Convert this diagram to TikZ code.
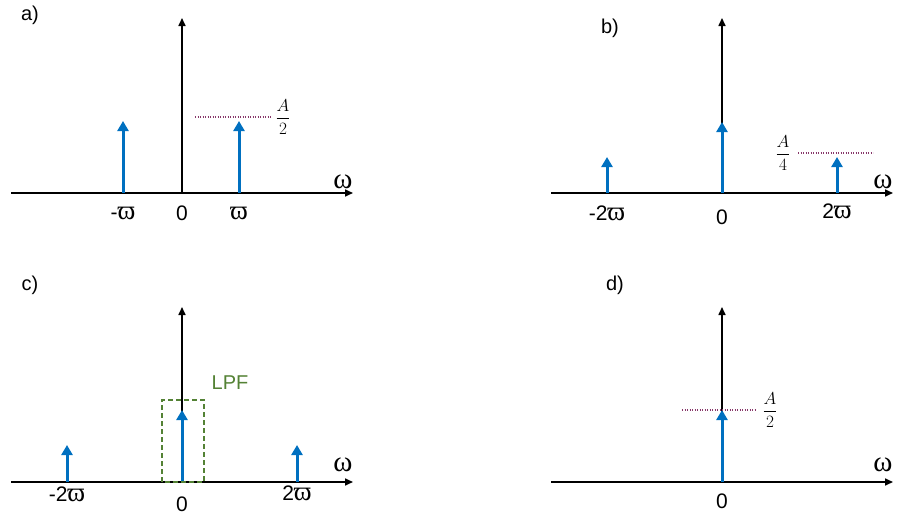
\documentclass[tikz,border=0pt]{standalone}
\usepackage{fontspec}
\setmainfont{Liberation Sans}
\newfontfamily\omfont{Liberation Serif}
\usetikzlibrary{arrows.meta}
\definecolor{spblue}{RGB}{0,112,192}
\definecolor{lpfgreen}{RGB}{84,130,53}
\definecolor{lvlline}{RGB}{135,55,105}
\newcommand{\vpi}{{\fontsize{27}{28}\omfont ϖ}}
\tikzset{
  axis/.style={black, line width=1.6pt, -{Triangle[length=8pt,width=7pt]}},
  impulse/.style={spblue, line width=3pt, -{Triangle[length=10pt,width=11pt]}},
  level/.style={lvlline, line width=1.1pt, dash pattern=on 1.2pt off 1.3pt},
  lpfbox/.style={lpfgreen, line width=1.2pt, dash pattern=on 5pt off 3pt},
  tick/.style={font=\fontsize{21}{24}\selectfont, inner sep=0pt},
  panel/.style={font=\fontsize{20}{23}\selectfont, inner sep=0pt},
  frac/.style={font=\fontsize{18}{20}\selectfont, inner sep=0pt},
  omlabel/.style={font=\fontsize{29}{32}\omfont, inner sep=0pt}
}
% axes of one panel: #1 prefix, #2 height of the omega label
\newcommand{\spaxes}[2]{%
  \coordinate (#1o) at (0,0);
  \coordinate (#1l) at (-171,0);
  \coordinate (#1r) at (171,0);
  \coordinate (#1t) at (0,175);
  \draw[axis] (#1l) -- (#1r);
  \draw[axis] (#1o) -- (#1t);
  \node[omlabel] (#1w) at (161,#2) {ω};}

\begin{document}
\begin{tikzpicture}[x=1pt,y=1pt]
\useasboundingbox (0,-522) rectangle (898,0);

% a)
\begin{scope}[shift={(182,-193)}]
\spaxes{a}{11}
\node[panel] (alab) at (-152,178) {a)};
\coordinate (a1b) at (-59,0); \coordinate (a1t) at (-59,72);
\coordinate (a2b) at (57,0);  \coordinate (a2t) at (57,72);
\draw[impulse] (a1b) -- (a1t);
\draw[impulse] (a2b) -- (a2t);
\coordinate (alv0) at (13,76); \coordinate (alv1) at (90,76);
\draw[level] (alv0) -- (alv1);
\node[frac] (afr) at (101,76) {$\displaystyle\frac{A}{2}$};
\node[tick] (at1) at (-59,-20) {-\vpi};
\node[tick] (at0) at (0,-20) {0};
\node[tick] (at2) at (57,-20) {\vpi};
\end{scope}

% b)
\begin{scope}[shift={(722,-193)}]
\spaxes{b}{11}
\node[panel] (blab) at (-112,165) {b)};
\coordinate (b0b) at (0,0);     \coordinate (b0t) at (0,71);
\coordinate (b1b) at (-115,0);  \coordinate (b1t) at (-115,36);
\coordinate (b2b) at (115,0);   \coordinate (b2t) at (115,36);
\draw[impulse] (b0b) -- (b0t);
\draw[impulse] (b1b) -- (b1t);
\draw[impulse] (b2b) -- (b2t);
\coordinate (blv0) at (76,40); \coordinate (blv1) at (151,40);
\draw[level] (blv0) -- (blv1);
\node[frac] (bfr) at (61,40) {$\displaystyle\frac{A}{4}$};
\node[tick] (bt1) at (-115,-20) {-2\vpi};
\node[tick] (bt0) at (0,-24) {0};
\node[tick] (bt2) at (115,-18) {2\vpi};
\end{scope}

% c)
\begin{scope}[shift={(182,-482)}]
\spaxes{c}{17}
\node[panel] (clab) at (-152,197) {c)};
\coordinate (c0b) at (0,0);     \coordinate (c0t) at (0,72);
\coordinate (c1b) at (-115,0);  \coordinate (c1t) at (-115,37);
\coordinate (c2b) at (115,0);   \coordinate (c2t) at (115,37);
\draw[impulse] (c0b) -- (c0t);
\draw[impulse] (c1b) -- (c1t);
\draw[impulse] (c2b) -- (c2t);
\coordinate (cbx0) at (-20,0); \coordinate (cbx1) at (22,82);
\draw[lpfbox] (cbx0) rectangle (cbx1);
\node[panel, text=lpfgreen] (clpf) at (48,99) {LPF};
\node[tick] (ct1) at (-115,-12) {-2\vpi};
\node[tick] (ct0) at (0,-22) {0};
\node[tick] (ct2) at (115,-11) {2\vpi};
\end{scope}

% d)
\begin{scope}[shift={(722,-482)}]
\spaxes{d}{17}
\node[panel] (dlab) at (-107,197) {d)};
\coordinate (d0b) at (0,0); \coordinate (d0t) at (0,72);
\draw[impulse] (d0b) -- (d0t);
\coordinate (dlv0) at (-40,72); \coordinate (dlv1) at (33,72);
\draw[level] (dlv0) -- (dlv1);
\node[frac] (dfr) at (48,72) {$\displaystyle\frac{A}{2}$};
\node[tick] (dt0) at (0,-19) {0};
\end{scope}
\end{tikzpicture}
\end{document}
